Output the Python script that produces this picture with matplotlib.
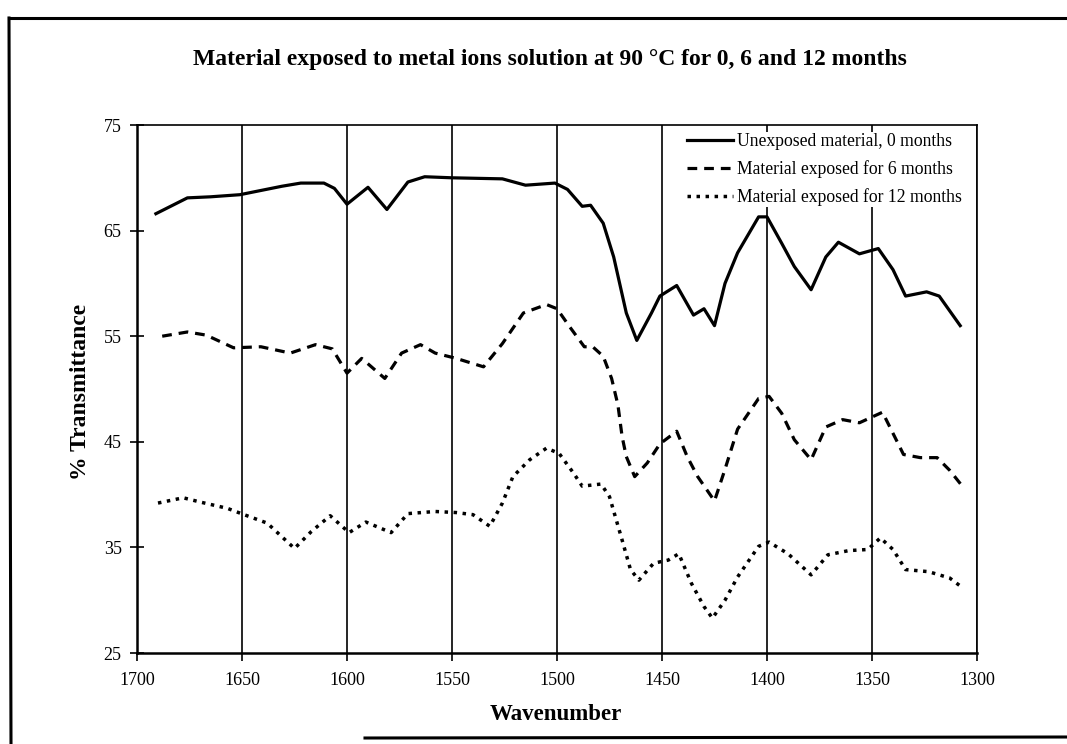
import matplotlib
matplotlib.use('Agg')
import matplotlib.pyplot as plt
from matplotlib.lines import Line2D

plt.rcParams['font.family'] = ['Liberation Serif', 'DejaVu Serif']
plt.rcParams['lines.scale_dashes'] = False

# values
solid_x = [1691, 1676, 1665, 1651, 1631, 1622, 1611, 1606, 1600, 1590,
           1581, 1571, 1563, 1550, 1526, 1515, 1501, 1495, 1488, 1484,
           1478, 1473, 1467, 1462, 1455, 1451, 1443, 1435, 1430, 1425,
           1420, 1414, 1404, 1400, 1393, 1387, 1379, 1372, 1366, 1356,
           1347, 1340, 1334, 1324, 1318, 1308]
solid_y = [66.6, 68.1, 68.2, 68.4, 69.2, 69.5, 69.5, 69.0, 67.5, 69.1,
           67.0, 69.6, 70.1, 70.0, 69.9, 69.3, 69.5, 68.9, 67.3, 67.4,
           65.7, 62.5, 57.2, 54.6, 57.2, 58.8, 59.8, 57.0, 57.6, 56.0,
           60.0, 62.9, 66.3, 66.3, 63.8, 61.6, 59.4, 62.5, 63.9, 62.8,
           63.3, 61.3, 58.8, 59.2, 58.8, 56.0]

dashed_x = [1688, 1676, 1667, 1654, 1641, 1627, 1615, 1607, 1600, 1593,
            1582, 1574, 1565, 1558, 1548, 1535, 1526, 1516, 1505, 1500,
            1494, 1487, 1483, 1478, 1474, 1471, 1469, 1467, 1463, 1457,
            1451, 1443, 1438, 1433, 1425, 1420, 1414, 1404, 1399, 1393,
            1387, 1379, 1372, 1364, 1356, 1345, 1340, 1335, 1327, 1319,
            1313, 1307]
dashed_y = [55.0, 55.4, 55.1, 53.9, 54.0, 53.4, 54.2, 53.8, 51.5, 52.9,
            51.0, 53.4, 54.2, 53.4, 52.9, 52.1, 54.3, 57.2, 58.0, 57.6,
            55.9, 54.0, 54.0, 53.1, 51.0, 48.5, 45.5, 43.6, 41.7, 43.0,
            44.8, 46.0, 43.6, 41.7, 39.4, 42.4, 46.2, 49.1, 49.3, 47.7,
            45.2, 43.3, 46.4, 47.1, 46.8, 47.8, 45.8, 43.8, 43.5, 43.5,
            42.3, 40.8]

dotted_x = [1690, 1678, 1670, 1657, 1649, 1638, 1625, 1617, 1608, 1599,
            1591, 1579, 1571, 1558, 1548, 1540, 1532, 1526, 1521, 1513,
            1505, 1499, 1492, 1488, 1479, 1475, 1469, 1465, 1461, 1454,
            1447, 1442, 1436, 1430, 1426, 1420, 1414, 1404, 1399, 1390,
            1379, 1371, 1361, 1352, 1346, 1340, 1334, 1323, 1313, 1307]
dotted_y = [39.2, 39.7, 39.3, 38.7, 38.1, 37.3, 34.9, 36.5, 38.0, 36.4,
            37.4, 36.4, 38.2, 38.4, 38.3, 38.1, 37.0, 39.2, 41.7, 43.3,
            44.4, 43.9, 42.0, 40.8, 41.0, 39.8, 35.7, 32.9, 31.9, 33.5,
            33.8, 34.4, 31.6, 29.4, 28.3, 30.0, 32.2, 35.1, 35.5, 34.4,
            32.4, 34.3, 34.7, 34.8, 35.9, 34.8, 32.9, 32.7, 32.1, 31.2]

labels = ['Unexposed material, 0 months',
          'Material exposed for 6 months',
          'Material exposed for 12 months']
x_ticks = [1700, 1650, 1600, 1550, 1500, 1450, 1400, 1350, 1300]
y_ticks = [25, 35, 45, 55, 65, 75]

fig = plt.figure(figsize=(10.67, 7.44), dpi=100)
ax = fig.add_axes([137/1067, 1 - 653/744, 840/1067, 528/744])

ax.plot(solid_x, solid_y, color='black', lw=2.3, solid_joinstyle='round',
        label=labels[0])
ax.plot(dashed_x, dashed_y, color='black', lw=2.3, dashes=(7, 5),
        label=labels[1])
ax.plot(dotted_x, dotted_y, color='black', lw=2.5, dashes=(2.5, 4),
        label=labels[2])

ax.set_xlim(1700, 1300)
ax.set_ylim(25, 75)
ax.set_xticks(x_ticks)
ax.set_yticks(y_ticks)
ax.tick_params(axis='x', direction='out', length=6, width=1.2, pad=8,
               labelsize=13)
ax.tick_params(axis='y', direction='inout', length=10, width=1.2, pad=6,
               labelsize=13)
ax.grid(axis='x', color='black', lw=1.2)
for side in ['left', 'bottom']:
    ax.spines[side].set_linewidth(1.8)
for side in ['top', 'right']:
    ax.spines[side].set_linewidth(1.2)

# white legend box hides the grid lines behind it, no visible border
leg = ax.legend(loc='upper left', bbox_to_anchor=(0.6536, 0.986),
                frameon=True, fancybox=False, edgecolor='none',
                facecolor='white', framealpha=1.0, fontsize=12.7,
                handlelength=2.6, handletextpad=0.25, labelspacing=0.56,
                borderaxespad=0, borderpad=0.05)
leg.set_zorder(1.5)

fig.text(0.515, 1 - 60/744,
         'Material exposed to metal ions solution at 90 °C for 0, 6 and 12 months',
         ha='center', va='center', fontsize=17, fontweight='bold')
fig.text(0.521, 1 - 714/744, 'Wavenumber', ha='center', va='center',
         fontsize=16.5, fontweight='bold')
fig.text(80/1067, 1 - 392/744, '% Transmittance', ha='center', va='center',
         rotation=90, fontsize=17, fontweight='bold')

# scanned page frame
fig.add_artist(Line2D([9/1067, 1], [1 - 18/744, 1 - 18/744],
                      transform=fig.transFigure, color='black', lw=2.2))
fig.add_artist(Line2D([9/1067, 11/1067], [1 - 18/744, 0],
                      transform=fig.transFigure, color='black', lw=2.2))
fig.add_artist(Line2D([365/1067, 1], [1 - 738/744, 1 - 737/744],
                      transform=fig.transFigure, color='black', lw=2.2))

fig.savefig('out.png', dpi=100, facecolor='white')
